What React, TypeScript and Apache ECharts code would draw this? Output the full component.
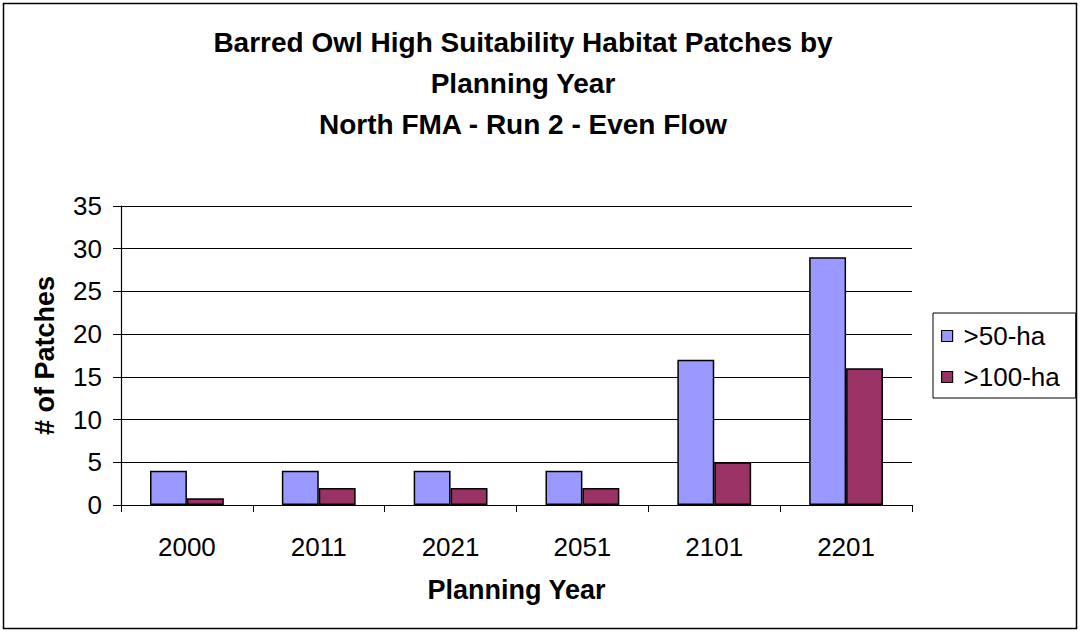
import React, { useEffect, useRef } from "react";
import * as echarts from "echarts";

const categories = ["2000", "2011", "2021", "2051", "2101", "2201"];
const over50 = [4, 4, 4, 4, 17, 29];
const over100 = [0.8, 2, 2, 2, 5, 16];
const seriesNames = [">50-ha", ">100-ha"];
const yTicks = { min: 0, max: 35, interval: 5 };

const FONT = "'Liberation Sans', Arial, Helvetica, sans-serif";

export default function App() {
  const ref = useRef<HTMLDivElement>(null);
  useEffect(() => {
    document.body.style.margin = "0";
    const chart = echarts.init(ref.current!, null, { renderer: "svg" });
    chart.setOption({
      animation: false,
      backgroundColor: "#ffffff",
      textStyle: { fontFamily: FONT },
      title: {
        text: "Barred Owl High Suitability Habitat Patches by\nPlanning Year\nNorth FMA - Run 2 - Even Flow",
        left: 518,
        top: 17,
        textAlign: "center",
        textStyle: {
          fontFamily: FONT,
          fontSize: 28,
          fontWeight: "bold",
          color: "#000",
          lineHeight: 41,
        },
      },
      graphic: [
        {
          type: "rect",
          shape: { x: 3.5, y: 3.5, width: 1073, height: 625 },
          style: { fill: "none", stroke: "#000", lineWidth: 1.5 },
          silent: true,
        },
      ],
      legend: {
        orient: "vertical",
        left: 933,
        top: 313,
        padding: [10, 16, 8, 8],
        itemGap: 15,
        itemWidth: 11,
        itemHeight: 11,
        borderColor: "#000",
        borderWidth: 1,
        icon: "rect",
        itemStyle: { borderColor: "#000", borderWidth: 1.2 },
        textStyle: { fontFamily: FONT, fontSize: 26, color: "#000", padding: [0, 0, 0, 6] },
        data: seriesNames,
      },
      grid: { left: 121, top: 206, width: 791, height: 299, containLabel: false },
      xAxis: {
        type: "category",
        data: categories,
        name: "Planning Year",
        nameLocation: "middle",
        nameGap: 71,
        nameTextStyle: { fontFamily: FONT, fontSize: 27, fontWeight: "bold", color: "#000" },
        axisLine: { lineStyle: { color: "#000", width: 1.2 } },
        axisTick: { show: true, length: 7, lineStyle: { color: "#000" } },
        axisLabel: { fontFamily: FONT, fontSize: 26, color: "#000", margin: 29 },
      },
      yAxis: {
        type: "value",
        min: yTicks.min,
        max: yTicks.max,
        interval: yTicks.interval,
        name: "# of Patches",
        nameLocation: "middle",
        nameGap: 63,
        nameRotate: 90,
        nameTextStyle: { fontFamily: FONT, fontSize: 27, fontWeight: "bold", color: "#000" },
        axisLine: { show: true, lineStyle: { color: "#000", width: 1.2 } },
        axisTick: { show: true, length: 8, lineStyle: { color: "#000" } },
        axisLabel: { fontFamily: FONT, fontSize: 26, color: "#000", margin: 19 },
        splitLine: { show: true, lineStyle: { color: "#000", width: 1 } },
      },
      series: [
        {
          name: seriesNames[0],
          type: "bar",
          data: over50,
          barGap: "0%",
          barCategoryGap: "44%",
          itemStyle: { color: "#9999FF", borderColor: "#000", borderWidth: 1.5 },
        },
        {
          name: seriesNames[1],
          type: "bar",
          data: over100,
          barGap: "0%",
          barCategoryGap: "44%",
          itemStyle: { color: "#993366", borderColor: "#000", borderWidth: 1.5 },
        },
      ],
    });
    return () => chart.dispose();
  }, []);
  return <div ref={ref} style={{ width: 1083, height: 633 }} />;
}
